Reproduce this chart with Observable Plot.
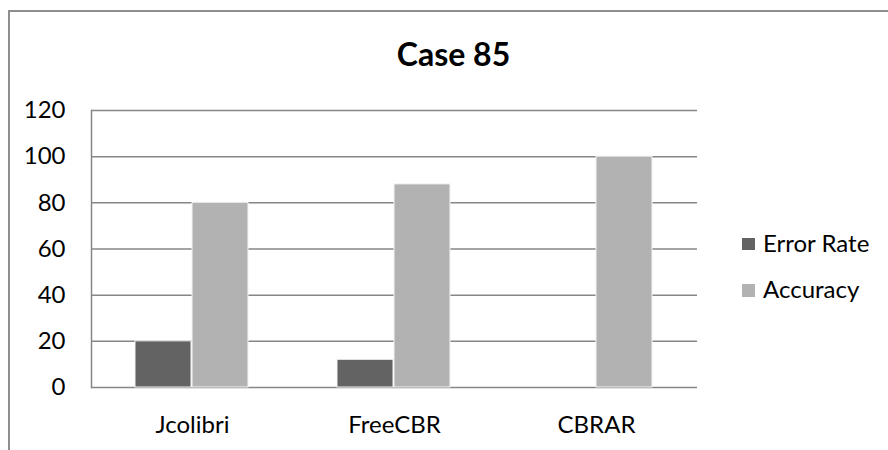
<!DOCTYPE html>
<html>
<head>
<meta charset="utf-8">
<script src="https://cdn.jsdelivr.net/npm/d3@7"></script>
<script src="https://cdn.jsdelivr.net/npm/@observablehq/plot@0.6"></script>
<style>
  html, body { margin: 0; padding: 0; background: #fff; }
  #wrap { position: relative; width: 888px; height: 450px; overflow: hidden; font-family: Lato, "Open Sans", sans-serif; }
  #border { position: absolute; left: 8px; top: 10px; width: 950px; height: 500px; border-left: 2px solid #8e8e8e; border-top: 2px solid #8e8e8e; box-sizing: border-box; }
  #chart { position: absolute; left: 0; top: 0; }
  #title { position: absolute; left: 0; width: 907px; top: 38px; text-align: center; font-size: 32px; line-height: 32px; font-weight: bold; color: #000; }
  .leg { position: absolute; left: 742px; font-size: 24px; line-height: 24px; color: #000; }
  .leg .sw { position: absolute; left: 0; width: 12.5px; height: 12.5px; }
  .leg .lab { position: absolute; left: 21px; top: 0; white-space: nowrap; }
</style>
</head>
<body>
<div id="wrap">
  <div id="border"></div>
  <div id="chart"></div>
  <div id="title"></div>
  <div id="legend"></div>
</div>
<script>
const title = "Case 85";
const categories = ["Jcolibri", "FreeCBR", "CBRAR"];
const series = ["Error Rate", "Accuracy"];
const errorRate = [20, 12, 0];
const accuracy = [80, 88, 100];
const yTicks = [0, 20, 40, 60, 80, 100, 120];
const colors = ["#636363", "#b2b2b2"];

const data = categories.flatMap((c, i) => [
  {category: c, series: series[0], value: errorRate[i]},
  {category: c, series: series[1], value: accuracy[i]}
]);

const chart = Plot.plot({
  width: 888,
  height: 450,
  marginLeft: 91,
  marginRight: 191,
  marginTop: 110,
  marginBottom: 63,
  style: {fontFamily: "Lato, 'Open Sans', sans-serif", background: "transparent", color: "#000"},
  fx: {domain: categories, padding: 0, label: null, axis: null},
  x: {domain: series, paddingInner: 0.017, paddingOuter: 0.75, axis: null},
  y: {domain: [0, 120], axis: null},
  color: {domain: series, range: colors},
  marks: [
    Plot.ruleY(yTicks, {stroke: "#868686", strokeWidth: 1.5, strokeOpacity: 1}),
    Plot.frame({anchor: "left", facet: "super", stroke: "#868686", strokeWidth: 1.5, strokeOpacity: 1}),
    Plot.barY(data, {fx: "category", x: "series", y: "value", fill: "series", stroke: "#f4f4f4", strokeWidth: 1}),
    Plot.axisY({ticks: yTicks, tickSize: 0, tickPadding: 26, fontSize: 24, label: null, fill: "#000"}),
    Plot.axisFx({anchor: "bottom", tickSize: 0, tickPadding: 28, fontSize: 24, label: null, fill: "#000"})
  ]
});
document.getElementById("chart").appendChild(chart);
document.getElementById("title").textContent = title;

const legend = document.getElementById("legend");
series.forEach((s, i) => {
  const item = document.createElement("div");
  item.className = "leg";
  item.style.top = (230.7 + i * 46.5) + "px";
  const sw = document.createElement("div");
  sw.className = "sw";
  sw.style.background = colors[i];
  sw.style.top = "7.3px";
  const lab = document.createElement("div");
  lab.className = "lab";
  lab.textContent = s;
  item.appendChild(sw);
  item.appendChild(lab);
  legend.appendChild(item);
});
</script>
</body>
</html>
